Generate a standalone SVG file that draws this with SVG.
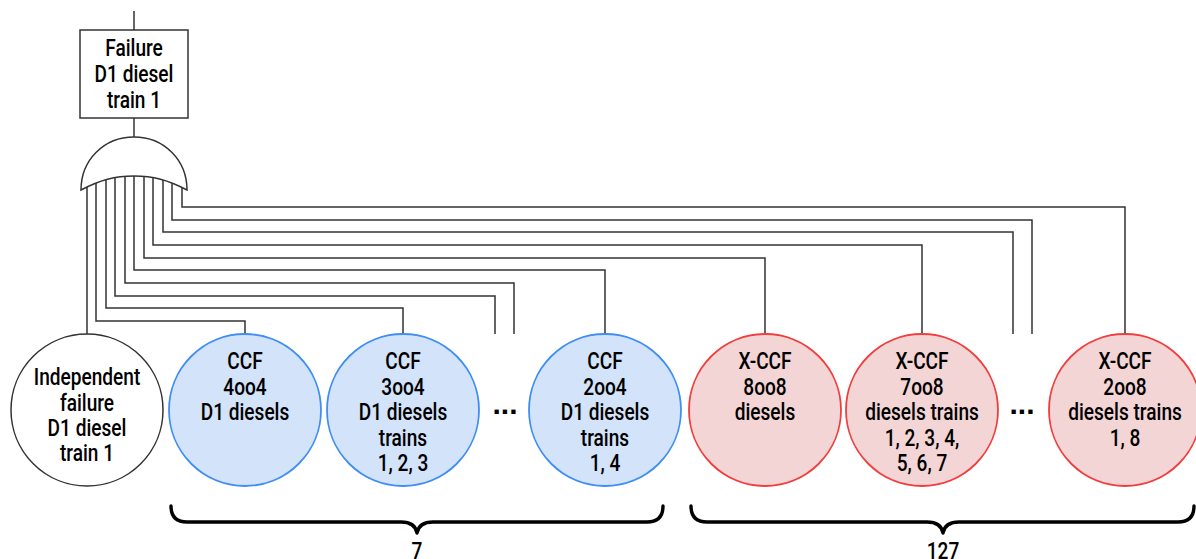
<svg xmlns="http://www.w3.org/2000/svg" width="1196" height="559" viewBox="0 0 1196 559">
<style>
.t{font-family:Roboto,"Liberation Sans",Arial,sans-serif;font-weight:500;font-size:23px;fill:#000;text-anchor:middle}
.w{fill:none;stroke:#333;stroke-width:1.5}
.ind{fill:#fff;stroke:#333;stroke-width:1.5}
.ccf{fill:#d3e3fa;stroke:#3f8ef5;stroke-width:1.8}
.x{fill:#f3d5d5;stroke:#f23d3d;stroke-width:1.8}
.br{fill:none;stroke:#000;stroke-width:3.4;stroke-linejoin:round;stroke-linecap:round}
.dots{font-family:"Liberation Sans",Arial,sans-serif;font-weight:bold;font-size:30px;fill:#000;text-anchor:middle}
</style>
<g id="connectors" class="w">
<line x1="134" y1="11" x2="134" y2="30"/>
<line x1="134" y1="118" x2="134" y2="137"/>
<polyline points="87,176 87,334"/>
<polyline points="96,176 96,321 245,321 245,334"/>
<polyline points="106,176 106,308 403,308 403,334"/>
<polyline points="115,176 115,296 495,296 495,334"/>
<polyline points="125,176 125,283 514,283 514,334"/>
<polyline points="134,176 134,270 605,270 605,334"/>
<polyline points="144,176 144,258 765,258 765,334"/>
<polyline points="153,176 153,245 922,245 922,334"/>
<polyline points="163,176 163,232 1013,232 1013,334"/>
<polyline points="172,176 172,220 1032,220 1032,334"/>
<polyline points="182,176 182,207 1125,207 1125,334"/>
</g>
<g id="top-event">
<rect x="80" y="30" width="108" height="88" fill="#fff" stroke="#333" stroke-width="1.5"/>
<g transform="translate(134 0) scale(0.83 1)">
<text class="t" x="0" y="56">Failure</text>
<text class="t" x="0" y="82">D1 diesel</text>
<text class="t" x="0" y="108">train 1</text>
</g>
</g>
<g id="or-gate">
<path d="M81,190 C81,160 104,137 134,137 C164,137 187,160 187,190 C168,180 153,176 134,176 C115,176 100,180 81,190 Z" fill="#fff" stroke="#333" stroke-width="1.5"/>
</g>
<g id="independent">
<circle class="ind" cx="87" cy="410" r="76"/>
<g transform="translate(87 0) scale(0.83 1)">
<text class="t" x="0" y="385">Independent</text>
<text class="t" x="0" y="411">failure</text>
<text class="t" x="0" y="436">D1 diesel</text>
<text class="t" x="0" y="461">train 1</text>
</g>
</g>
<g id="ccf-4oo4">
<circle class="ccf" cx="245" cy="410" r="76"/>
<g transform="translate(245 0) scale(0.83 1)">
<text class="t" x="0" y="369">CCF</text>
<text class="t" x="0" y="395">4oo4</text>
<text class="t" x="0" y="420">D1 diesels</text>
</g>
</g>
<g id="ccf-3oo4">
<circle class="ccf" cx="403" cy="410" r="76"/>
<g transform="translate(403 0) scale(0.83 1)">
<text class="t" x="0" y="369">CCF</text>
<text class="t" x="0" y="395">3oo4</text>
<text class="t" x="0" y="420">D1 diesels</text>
<text class="t" x="0" y="446">trains</text>
<text class="t" x="0" y="471">1, 2, 3</text>
</g>
</g>
<text class="dots" x="505" y="414">...</text>
<g id="ccf-2oo4">
<circle class="ccf" cx="605" cy="410" r="76"/>
<g transform="translate(605 0) scale(0.83 1)">
<text class="t" x="0" y="369">CCF</text>
<text class="t" x="0" y="395">2oo4</text>
<text class="t" x="0" y="420">D1 diesels</text>
<text class="t" x="0" y="446">trains</text>
<text class="t" x="0" y="471">1, 4</text>
</g>
</g>
<g id="xccf-8oo8">
<circle class="x" cx="765" cy="410" r="76"/>
<g transform="translate(765 0) scale(0.83 1)">
<text class="t" x="0" y="369">X-CCF</text>
<text class="t" x="0" y="395">8oo8</text>
<text class="t" x="0" y="420">diesels</text>
</g>
</g>
<g id="xccf-7oo8">
<circle class="x" cx="922" cy="410" r="76"/>
<g transform="translate(922 0) scale(0.83 1)">
<text class="t" x="0" y="369">X-CCF</text>
<text class="t" x="0" y="395">7oo8</text>
<text class="t" x="0" y="420">diesels trains</text>
<text class="t" x="0" y="446">1, 2, 3, 4,</text>
<text class="t" x="0" y="471">5, 6, 7</text>
</g>
</g>
<text class="dots" x="1022" y="414">...</text>
<g id="xccf-2oo8">
<circle class="x" cx="1125" cy="410" r="76"/>
<g transform="translate(1125 0) scale(0.83 1)">
<text class="t" x="0" y="369">X-CCF</text>
<text class="t" x="0" y="395">2oo8</text>
<text class="t" x="0" y="420">diesels trains</text>
<text class="t" x="0" y="446">1, 8</text>
</g>
</g>
<g id="brace-ccf">
<path class="br" d="M171,506 Q171,522 187,522 L401,522 Q415,522 417,533 Q419,522 433,522 L647,522 Q663,522 663,506"/>
<g transform="translate(417 0) scale(0.83 1)">
<text class="t" x="0" y="559">7</text>
</g>
</g>
<g id="brace-xccf">
<path class="br" d="M691,506 Q691,522 707,522 L927,522 Q941,522 943,533 Q945,522 959,522 L1178,522 Q1194,522 1194,506"/>
<g transform="translate(943 0) scale(0.83 1)">
<text class="t" x="0" y="559">127</text>
</g>
</g>
</svg>
